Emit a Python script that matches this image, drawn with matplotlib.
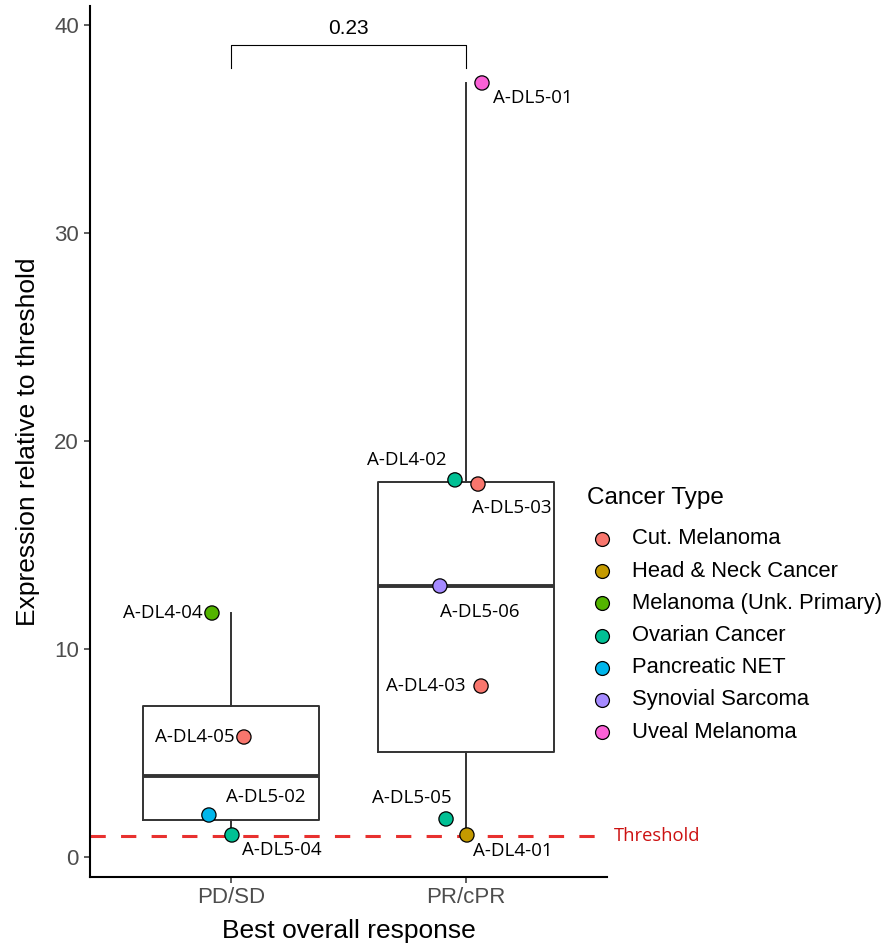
import matplotlib
matplotlib.use("Agg")
import matplotlib.pyplot as plt
from matplotlib.lines import Line2D

# ---- data ----
groups = ["PD/SD", "PR/cPR"]
samples = ["A-DL4-04", "A-DL4-05", "A-DL5-02", "A-DL5-04",
           "A-DL5-01", "A-DL4-02", "A-DL5-03", "A-DL5-06", "A-DL4-03", "A-DL5-05", "A-DL4-01"]
sample_group = [0, 0, 0, 0, 1, 1, 1, 1, 1, 1, 1]
x_jitter = [-0.081, 0.055, -0.094, 0.004, 0.068, -0.047, 0.051, -0.111, 0.064, -0.085, 0.004]
expression = [11.73, 5.77, 2.02, 1.06, 37.21, 18.13, 17.93, 13.03, 8.22, 1.83, 1.06]
cancer_type = ["Melanoma (Unk. Primary)", "Cut. Melanoma", "Pancreatic NET", "Ovarian Cancer",
               "Uveal Melanoma", "Ovarian Cancer", "Cut. Melanoma", "Synovial Sarcoma",
               "Cut. Melanoma", "Ovarian Cancer", "Head & Neck Cancer"]
cancer_types = ["Cut. Melanoma", "Head & Neck Cancer", "Melanoma (Unk. Primary)",
                "Ovarian Cancer", "Pancreatic NET", "Synovial Sarcoma", "Uveal Melanoma"]
palette = ["#F8766D", "#C49A00", "#53B400", "#00C094", "#00B6EB", "#A58AFF", "#FB61D7"]
threshold = 1.0
p_value = "0.23"
y_ticks = [0, 10, 20, 30, 40]

# label offsets in points (dx, dy) and horizontal alignment
label_offsets = [(-7, 0, "right"), (-6.5, 0, "right"), (12, 13, "left"), (7, -11, "left"),
                 (8, -11, "left"), (-6, 14, "right"), (-4, -17, "left"), (0, -18.5, "left"),
                 (-11, 0, "right"), (4, 15, "right"), (4.5, -11.5, "left")]

W, H = 889, 947
fig = plt.figure(figsize=(W / 100, H / 100), dpi=100)
ax = fig.add_axes([90 / W, 70 / H, 517 / W, 871 / H])

sans = "Liberation Sans"
lab_font = "Open Sans"
grey20 = "#333333"

# boxplots per group
group_vals = [[v for v, g in zip(expression, sample_group) if g == i] for i in range(len(groups))]
ax.boxplot(group_vals, positions=[1, 2], widths=0.75, whis=1.5, showfliers=False,
           showcaps=False, patch_artist=False,
           boxprops=dict(color=grey20, linewidth=1.4),
           whiskerprops=dict(color=grey20, linewidth=1.4),
           medianprops=dict(color=grey20, linewidth=2.8),
           zorder=2)

# threshold line
ax.axhline(threshold, color="#E8312F", linewidth=2.2, linestyle=(0, (5, 5)), zorder=1)
ax.annotate("Threshold", (2.6, threshold), xytext=(5, 0), textcoords="offset points",
            color="#CC1111", fontsize=13.2, family=lab_font,
            va="center", ha="left", annotation_clip=False)

# points and labels
color_of = dict(zip(cancer_types, palette))
xs = [g + 1 + j for g, j in zip(sample_group, x_jitter)]
ax.scatter(xs, expression, s=105, c=[color_of[c] for c in cancer_type],
           edgecolors="black", linewidths=0.9, zorder=4, clip_on=False)
for x, y, name, (dx, dy, ha) in zip(xs, expression, samples, label_offsets):
    ax.annotate(name, (x, y), xytext=(dx, dy), textcoords="offset points",
                ha=ha, va="center", fontsize=13.5, family=lab_font, color="black", zorder=5)

# significance bracket
y_top = max(expression) * 1.049
y_tip = max(expression) * 1.019
ax.plot([1, 1, 2, 2], [y_tip, y_top, y_top, y_tip], color="black", linewidth=0.8,
        clip_on=False)
ax.text(1.5, y_top + 0.35, p_value, ha="center", va="bottom", fontsize=15, family=sans)

# axes styling
ax.set_xlim(0.4, 2.6)
ax.set_ylim(-0.96, 40.91)
ax.set_xticks([1, 2])
ax.set_xticklabels(groups)
ax.set_yticks(y_ticks)
for s in ["top", "right"]:
    ax.spines[s].set_visible(False)
for s in ["left", "bottom"]:
    ax.spines[s].set_linewidth(1.5)
    ax.spines[s].set_color("black")
ax.tick_params(axis="both", colors=grey20, length=4, width=1.1, labelsize=16,
               labelcolor="#4D4D4D")
ax.tick_params(axis="x", pad=3)
ax.tick_params(axis="y", pad=4)
for t in ax.get_xticklabels() + ax.get_yticklabels():
    t.set_family(sans)
ax.set_xlabel("Best overall response", fontsize=19, family=sans, labelpad=8)
ax.set_ylabel("Expression relative to threshold", fontsize=19, family=sans, labelpad=10)

# legend
fig.text(587 / W, 1 - 498 / H, "Cancer Type", fontsize=17.5, family=sans, va="center", ha="left")
for i, (name, col) in enumerate(zip(cancer_types, palette)):
    yy = 1 - (539 + i * 32.2) / H
    fig.add_artist(Line2D([602 / W], [yy], marker="o", markersize=10, markerfacecolor=col,
                          markeredgecolor="black", markeredgewidth=0.9, linestyle="none"))
    fig.text(632 / W, yy, name, fontsize=15.8, family=sans, va="center", ha="left")

fig.savefig("out.png", dpi=100)
